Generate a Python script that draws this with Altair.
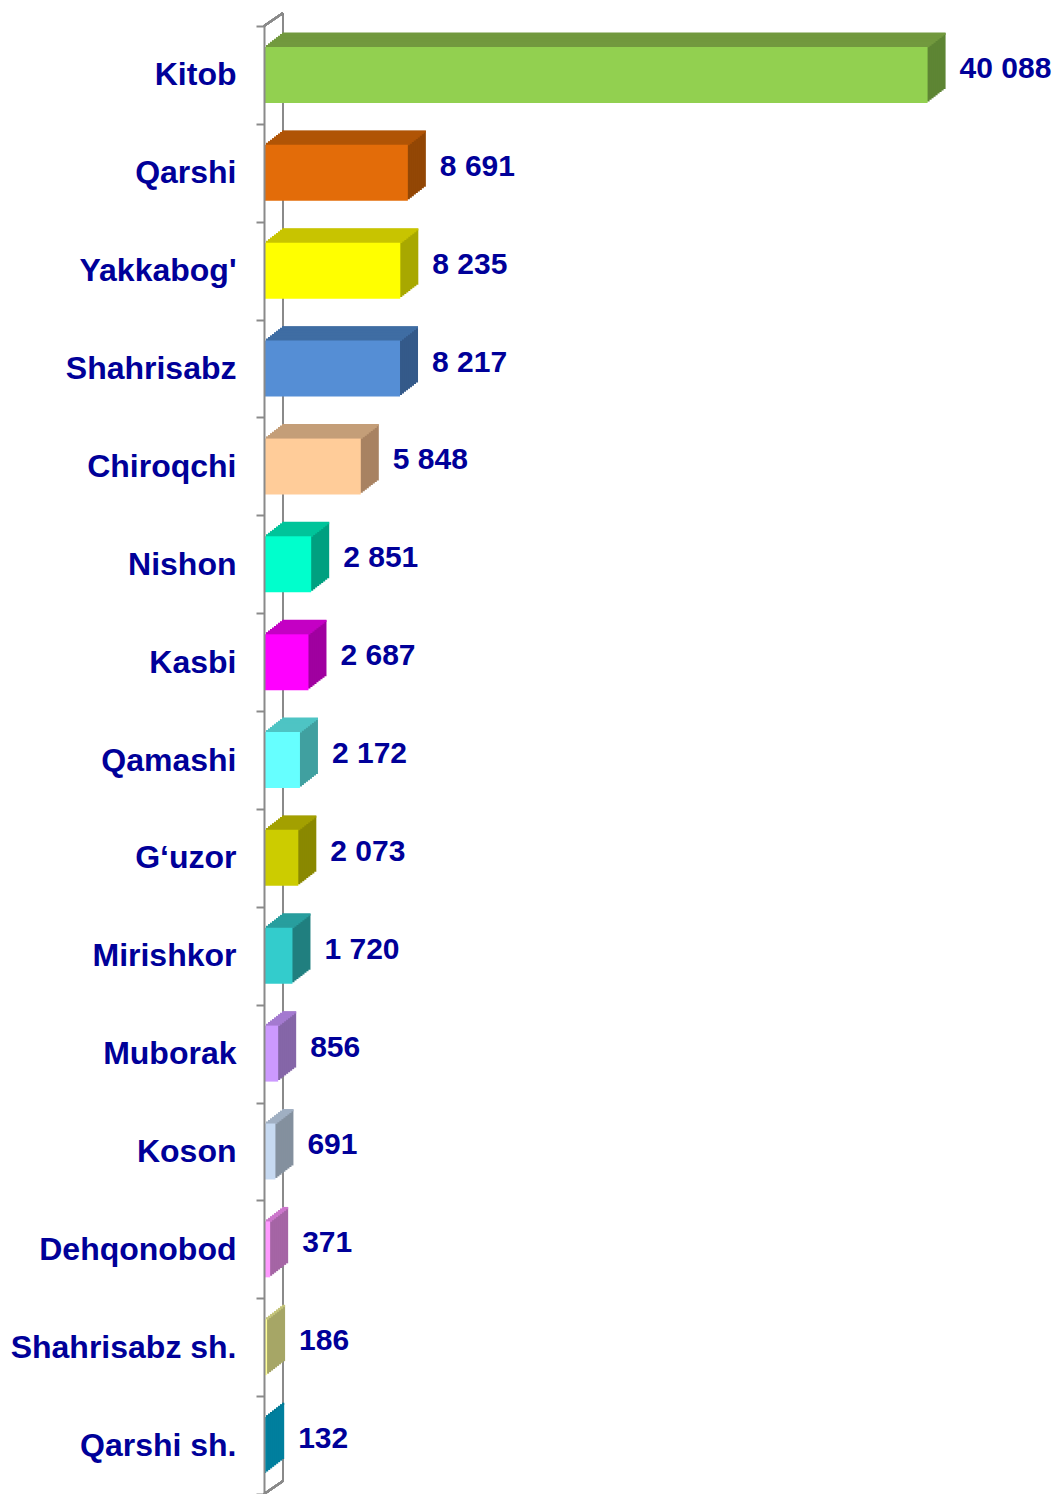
import altair as alt
import pandas as pd

categories = ["Kitob", "Qarshi", "Yakkabog'", "Shahrisabz\u00a0", "Chiroqchi", "Nishon", "Kasbi",
              "Qamashi", "G‘uzor", "Mirishkor", "Muborak", "Koson", "Dehqonobod",
              "Shahrisabz sh.", "Qarshi sh."]
values = [40088, 8691, 8235, 8217, 5848, 2851, 2687, 2172, 2073, 1720, 856, 691, 371, 186, 132]
front_colors = ["#92D050", "#E36C09", "#FFFF00", "#558ED5", "#FFCC99", "#00FFCC", "#FF00FF",
                "#66FFFF", "#CCCC00", "#33CCCC", "#CC99FF", "#C6D9F1", "#FF99FF", "#FFFF99", "#0093B4"]
top_colors = ["#72993E", "#B05406", "#C8C400", "#3F6DA3", "#C49E78", "#00C49A", "#C400C4",
              "#4EC4C4", "#A3A000", "#289E9E", "#A47AD0", "#A0AFC2", "#CC77CC", "#C4C47A", "#007A96"]
side_colors = ["#5E8534", "#934705", "#A8A800", "#345A8A", "#A88262", "#00A080", "#A000A0",
               "#40A0A0", "#8A8800", "#207F7F", "#8566A8", "#84909E", "#A565A5", "#A6A666", "#007F9E"]
labels = [f"{v:,}".replace(",", " ") for v in values]

df = pd.DataFrame({"cat": categories, "value": values, "front": front_colors,
                   "top": top_colors, "side": side_colors, "label": labels})

W, H = 778, 1468
DX, DY = 18, 14
BAR_H = 56
N = 9
TXT = "#000099"
GRAY = "#8a8a8a"

xs = alt.Scale(domain=[0, 47000], nice=False, zero=True)
ys = alt.Scale(domain=categories, paddingInner=0, paddingOuter=0)

y_axis = alt.Axis(title=None, domainColor=GRAY, domainWidth=2, tickColor=GRAY, tickWidth=2,
                  tickSize=8, tickBand="extent", labelFont="Liberation Sans", labelFontSize=32,
                  labelFontWeight="bold", labelColor=TXT, labelPadding=20, zindex=1,
                  labelLimit=400)

base = alt.Chart(df)


def X():
    return alt.X("value:Q", scale=xs, axis=None)


def Y():
    return alt.Y("cat:N", sort=categories, scale=ys, axis=y_axis)


layers = []

# back wall lines
wall = alt.Chart(df).mark_rule(color=GRAY, strokeWidth=2).encode(
    x=alt.value(DX + 1), x2=alt.value(DX + 1), y=alt.value(-DY + 1), y2=alt.value(H - DY + 1))
wall_top = alt.Chart(df).mark_rule(color=GRAY, strokeWidth=2).encode(
    x=alt.value(0), x2=alt.value(DX + 1), y=alt.value(0), y2=alt.value(-DY + 1))
wall_bot = alt.Chart(df).mark_rule(color=GRAY, strokeWidth=2).encode(
    x=alt.value(0), x2=alt.value(DX + 1), y=alt.value(H), y2=alt.value(H - DY + 1))
layers += [wall, wall_top, wall_bot]

step_x = DX / N
step_y = DY / N

# side faces (stacked shifted boxes, back to front)
for k in range(N, 0, -1):
    ox = step_x * k
    oy = -step_y * k
    layers.append(base.mark_bar(height=BAR_H, xOffset=ox, x2Offset=ox - step_x - 0.5,
                                yOffset=oy).encode(
        x=X(), y=Y(), color=alt.Color("side:N", scale=None)))

# top faces (thin strips)
for k in range(N, 0, -1):
    ox = step_x * k
    oy = -BAR_H / 2 - (k - 0.5) * step_y
    layers.append(base.mark_bar(height=step_y + 0.8, xOffset=ox, x2Offset=ox - step_x - 0.5,
                                yOffset=oy).encode(
        x=X(), y=Y(), color=alt.Color("top:N", scale=None)))

# front faces
front = base.mark_bar(height=BAR_H).encode(
    x=X(), y=Y(), color=alt.Color("front:N", scale=None))
layers.append(front)

text = base.mark_text(align="left", baseline="middle", dx=32, dy=-6, font="Liberation Sans",
                      fontSize=30, fontWeight="bold", color=TXT).encode(
    x=X(), y=Y(), text="label:N")
layers.append(text)

chart = alt.layer(*layers).properties(
    width=W, height=H,
    padding={"left": 256, "top": 18, "right": 11, "bottom": 0},
    autosize="none",
).configure_view(stroke=None)

chart.save("out.html", embed_options={"renderer": "svg", "actions": False})
